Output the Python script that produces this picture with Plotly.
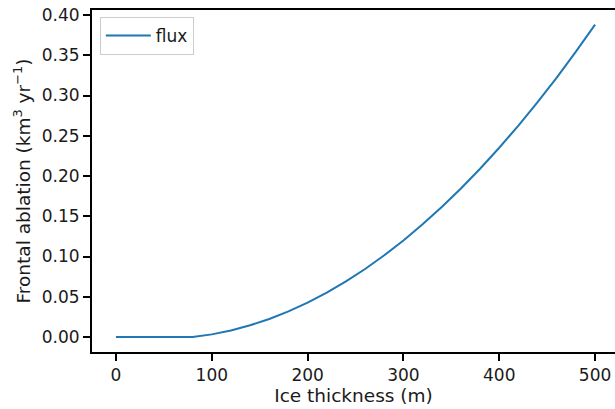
import plotly.graph_objects as go

thickness = [0, 20, 40, 60, 80, 100, 120, 140, 160, 180, 200, 220, 240, 260, 280,
             300, 320, 340, 360, 380, 400, 420, 440, 460, 480, 500]
flux = [0.0, 0.0, 0.0, 0.0, 0.0, 0.0033, 0.0082, 0.0146, 0.0224, 0.0318, 0.0427,
        0.0552, 0.0691, 0.0845, 0.1015, 0.1200, 0.1400, 0.1615, 0.1845, 0.2090,
        0.2351, 0.2627, 0.2917, 0.3223, 0.3544, 0.3881]
y_ticks = [0.0, 0.05, 0.10, 0.15, 0.20, 0.25, 0.30, 0.35, 0.40]
x_ticks = [0, 100, 200, 300, 400, 500]

fig = go.Figure()
fig.add_trace(go.Scatter(x=thickness, y=flux, mode="lines", name="flux",
                         line=dict(color="#1f77b4", width=2)))

font = "DejaVu Sans, sans-serif"
fig.update_layout(
    width=615, height=409,
    margin=dict(l=92, r=0, t=10, b=57),
    plot_bgcolor="white", paper_bgcolor="white",
    font=dict(family=font, size=17, color="#1a1a1a"),
    showlegend=True,
    legend=dict(x=0.015, y=0.98, xanchor="left", yanchor="top", itemwidth=45,
                bgcolor="rgba(255,255,255,0.8)", bordercolor="#cccccc", borderwidth=1,
                font=dict(size=17, color="#1a1a1a")),
    xaxis=dict(range=[-25, 520.8], tickvals=x_ticks, showgrid=False, zeroline=False,
               showline=True, linecolor="black", linewidth=2, mirror=True,
               ticks="outside", ticklen=7, tickwidth=1.5, tickcolor="black",
               tickfont=dict(size=17),
               title=dict(text="Ice thickness (m)", font=dict(size=18.5), standoff=4)),
    yaxis=dict(range=[-0.0186, 0.4062], tickvals=y_ticks, tickformat=".2f",
               showgrid=False, zeroline=False,
               showline=True, linecolor="black", linewidth=2,
               ticks="outside", ticklen=7, tickwidth=1.5, tickcolor="black",
               tickfont=dict(size=17),
               title=dict(text="Frontal ablation (km<sup>3</sup> yr<sup>\u22121</sup>)",
                          font=dict(size=18.5), standoff=6)),
)

fig.write_html("out.html")
